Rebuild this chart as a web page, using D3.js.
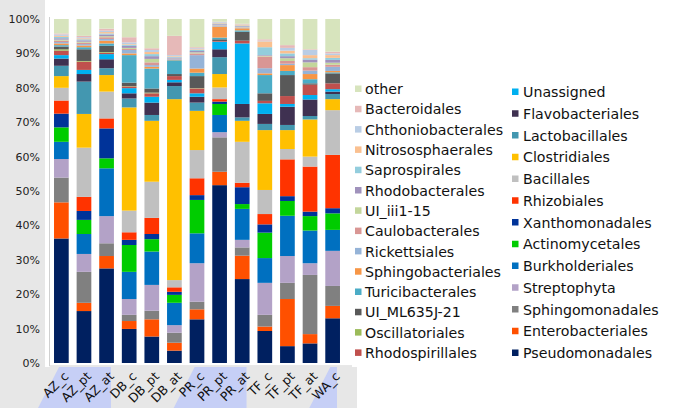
<!DOCTYPE html>
<html>
<head>
<meta charset="utf-8">
<script src="https://cdn.jsdelivr.net/npm/d3@7"></script>
<style>
  body { margin: 0; background: #fff; }
  svg { display: block; font-family: "DejaVu Sans", Verdana, sans-serif; }
</style>
</head>
<body>
<svg width="675" height="412"></svg>
<script>
// stack order, bottom -> top
var taxa = ["Pseudomonadales","Enterobacteriales","Sphingomonadales","Streptophyta","Burkholderiales",
  "Actinomycetales","Xanthomonadales","Rhizobiales","Bacillales","Clostridiales","Lactobacillales",
  "Flavobacteriales","Unassigned","Rhodospirillales","Oscillatoriales","UI_ML635J-21","Turicibacterales",
  "Sphingobacteriales","Rickettsiales","Caulobacterales","UI_iii1-15","Rhodobacterales","Saprospirales",
  "Nitrososphaerales","Chthoniobacterales","Bacteroidales","other"];

var colors = ["#002060","#ff5000","#808080","#b3a2c7","#0070c0",
  "#00cc00","#003399","#ff3300","#c0c0c0","#ffc000","#4397b0",
  "#3f3151","#00b0f0","#c0504d","#9bbb59","#595959","#4bacc6",
  "#f79646","#95b3d7","#d99694","#c3d69b","#a092bc","#93cddd",
  "#fac090","#b9cde5","#e6b9b8","#d7e4bd"];

var samples = ["AZ_c","AZ_pt","AZ_at","DB_c","DB_pt","DB_at","PR_c","PR_pt","PR_at","TF_c","TF_pt","TF_at","WA_c"];

// percentages per sample, same order as taxa
var AZ_c  = [36.2,10.5,7.2,5.4,5.0,4.2,4.0,3.8,3.7,3.4,3.0,2.1,1.0,1.3,0.4,0.8,0.4,0.5,0.4,0.4,0.3,0.4,0.4,0.3,0.4,0.3,4.2];
var AZ_pt = [15.1,2.4,9.0,5.2,5.8,4.1,2.6,4.1,14.3,9.8,9.4,2.2,1.2,2.4,0.2,3.4,0.6,0.5,0.4,0.4,0.3,0.4,0.3,0.3,0.3,0.4,4.9];
var AZ_at = [27.5,3.6,3.7,7.9,13.9,2.9,8.7,2.9,7.8,4.8,2.0,2.6,1.5,0.4,0.2,1.8,0.7,0.8,0.5,0.5,0.3,0.5,0.3,0.4,0.4,0.6,2.8];
var DB_c  = [9.9,2.3,1.8,4.6,7.9,7.8,1.5,2.2,6.3,30.0,2.6,1.5,1.5,0.5,0.1,1.0,8.0,0.5,1.0,0.3,0.3,0.6,0.3,0.2,0.5,1.5,5.3];
var DB_pt = [7.7,5.0,2.5,7.5,9.7,3.6,1.5,4.7,10.5,17.7,1.7,3.6,1.7,1.0,0.2,1.2,5.8,0.5,0.5,0.8,1.0,0.8,0.6,0.6,0.6,0.5,8.5];
var DB_at = [3.6,2.3,2.9,2.2,6.5,2.3,0.9,1.3,2.1,52.6,3.8,1.1,0.7,1.1,0,0.6,4.0,0.1,0.2,0.1,0.1,0.3,0.2,0.2,0.3,5.6,4.9];
var PR_c  = [12.7,2.9,2.2,11.2,8.7,9.7,1.4,4.9,8.2,11.4,2.4,1.7,1.0,1.4,0.1,3.5,1.0,1.2,3.9,0.5,0.3,0.4,0.3,0.2,0.3,0.3,8.2];
var PR_pt = [51.7,3.9,10.0,1.5,5.0,3.2,0.7,0.7,3.4,3.9,4.9,2.3,2.2,0.2,0,0.5,0.5,3.2,0.3,0.1,0.1,0.2,0.2,0.2,0.2,0.1,0.8];
var PR_at = [24.4,6.8,2.4,2.2,9.0,1.4,4.9,1.3,11.9,6.1,1.0,3.9,17.6,0.8,0,2.6,0.4,0.6,0.2,0.1,0.1,0.2,0.2,0.3,0.1,0.1,1.4];
var TF_c  = [9.3,1.3,3.4,9.3,7.2,7.4,2.4,3.0,7.0,17.4,1.8,2.9,3.1,0.7,0,2.2,5.3,0.5,1.5,3.4,0.2,0.2,2.3,1.7,0.2,0.4,5.9];
var TF_pt = [4.9,13.7,4.7,7.8,11.7,4.3,1.4,10.7,3.0,5.5,1.5,5.3,0.8,2.3,0,6.1,1.2,1.7,0.4,0.8,0.8,0.6,0.8,0.8,0.8,0.8,7.6];
var TF_at = [5.7,2.7,17.2,3.4,9.5,4.2,1.3,13.1,2.9,10.8,1.0,4.8,1.3,3.0,0,0.4,1.2,1.5,1.0,1.0,1.4,0.8,0.4,0.9,1.5,0.2,8.8];
var WA_c  = [13.0,3.6,5.8,10.2,6.1,4.8,1.5,15.5,13.0,3.2,1.5,0.7,0.7,1.7,0,2.9,0.3,0.4,1.2,0.6,0.6,0.8,0.6,0.8,0.5,0.5,9.5];

var yTicks = [0,0.1,0.2,0.3,0.4,0.5,0.6,0.7,0.8,0.9,1];
// highlighted sample groups under the axis
var bands = [["AZ_c","AZ_at"],["PR_c","PR_at"],["WA_c","WA_c"]];

var values = [AZ_c,AZ_pt,AZ_at,DB_c,DB_pt,DB_at,PR_c,PR_pt,PR_at,TF_c,TF_pt,TF_at,WA_c];
var rows = samples.map(function(s, i) {
  var r = {sample: s};
  taxa.forEach(function(t, j) { r[t] = values[i][j]; });
  return r;
});

var svg = d3.select("svg");

var x = d3.scaleBand()
    .domain(samples)
    .range([49.5, 344.5])
    .paddingInner(0.35)
    .paddingOuter(0.2);
var y = d3.scaleLinear().domain([0, 1]).range([363, 19]);
var color = d3.scaleOrdinal().domain(taxa).range(colors);

// grey panel behind axes
svg.append("rect").attr("x", 0).attr("y", 0).attr("width", 357).attr("height", 408).attr("fill", "#e7e7e7");
svg.append("rect").attr("x", 45).attr("y", 0).attr("width", 312).attr("height", 367).attr("fill", "#fff");

// label highlight bands
svg.append("g").selectAll("path")
  .data(bands)
  .enter().append("path")
    .attr("fill", "#c6cff6")
    .attr("d", function(b) {
      var l = x(b[0]) + 5, r = x(b[1]) + x.bandwidth() - 3;
      return "M" + (l - 21) + ",408L" + l + ",367L" + r + ",367L" + r + ",408Z";
    });

var series = d3.stack().keys(taxa).offset(d3.stackOffsetExpand)(rows);

svg.append("g").selectAll("g")
  .data(series)
  .enter().append("g")
    .attr("fill", d => color(d.key))
  .selectAll("rect")
  .data(d => d)
  .enter().append("rect")
    .attr("x", d => x(d.data.sample))
    .attr("width", x.bandwidth())
    .attr("y", d => y(d[1]))
    .attr("height", d => y(d[0]) - y(d[1]));

// axis lines
svg.append("line").attr("x1", 49.5).attr("x2", 49.5).attr("y1", 17).attr("y2", 366)
    .attr("stroke", "#d0d0d0");
svg.append("line").attr("x1", 49.5).attr("x2", 352).attr("y1", 366).attr("y2", 366)
    .attr("stroke", "#d0d0d0");

var yAxis = svg.append("g")
    .attr("transform", "translate(49,0)")
    .call(d3.axisLeft(y).tickValues(yTicks).tickFormat(d3.format(".0%")).tickSize(0).tickPadding(9));
yAxis.select(".domain").remove();
yAxis.selectAll("text").attr("font-size", 11).attr("font-family", "DejaVu Sans").attr("fill", "#222");

var xAxis = svg.append("g")
    .attr("transform", "translate(0,366)")
    .call(d3.axisBottom(x).tickSize(0).tickPadding(0));
xAxis.select(".domain").remove();
xAxis.selectAll("text")
    .attr("font-size", 12.5)
    .attr("font-family", "DejaVu Sans")
    .attr("fill", "#111")
    .attr("text-anchor", "end")
    .attr("dy", "0.35em")
    .attr("transform", "translate(5,8) rotate(-45)");

// legend, two columns
var leftKeys = taxa.slice(13).reverse();
var rightKeys = taxa.slice(0, 13).reverse();

function legendCol(keys, sx, tx, y0, step) {
  var g = svg.append("g").selectAll("g")
    .data(keys)
    .enter().append("g")
      .attr("transform", (d, i) => "translate(0," + (y0 + i * step) + ")");
  g.append("rect").attr("x", sx).attr("y", -3.5).attr("width", 6.5).attr("height", 6.5)
      .attr("fill", d => color(d));
  g.append("text").attr("x", tx).attr("dy", "0.36em")
      .attr("font-size", 14.2).attr("fill", "#111")
      .text(d => d);
}
legendCol(leftKeys, 355, 365, 89, 20.3);
legendCol(rightKeys, 512, 523, 92, 21.75);
</script>
</body>
</html>
